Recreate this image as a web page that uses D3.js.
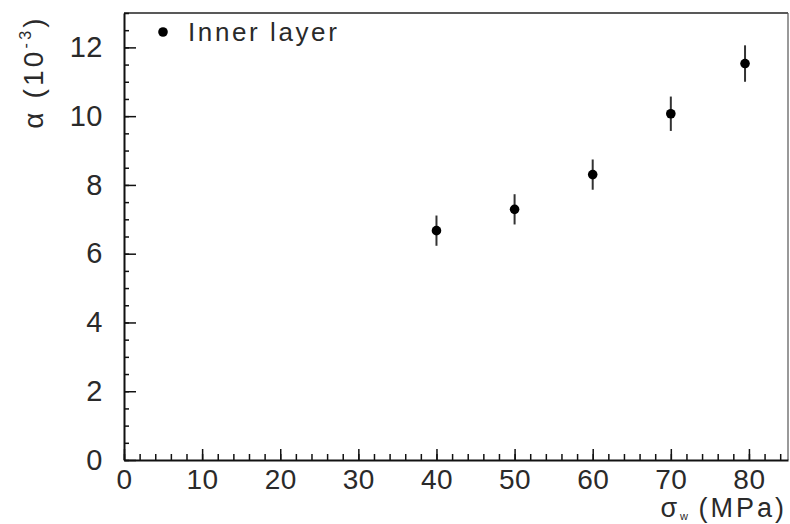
<!DOCTYPE html>
<html>
<head>
<meta charset="utf-8">
<script src="https://cdn.jsdelivr.net/npm/d3@7"></script>
<style>
  body { margin: 0; background: #fff; }
  svg { display: block; }
  text { font-family: "Liberation Sans", Arial, sans-serif; fill: #2a2a2a; }
  .axis path, .axis line { stroke: #111; }
</style>
</head>
<body>
<div id="chart-container"><svg></svg></div>
<script>
// wire stress (MPa) vs alpha (10^-3), inner layer
const stress = [40, 50, 60, 70, 79.5];
const alpha = [6.67, 7.29, 8.30, 10.07, 11.53];
const alphaErr = [0.44, 0.44, 0.44, 0.50, 0.53];

const xTicks = [0, 10, 20, 30, 40, 50, 60, 70, 80];
const yTicks = [0, 2, 4, 6, 8, 10, 12];
const legendLabel = "Inner layer";

const chartSize = {width: 790, height: 524};
const margin = {left: 124, right: 2, top: 13, bottom: 64};

const width = chartSize.width - margin.left - margin.right;
const height = chartSize.height - margin.top - margin.bottom;

const svg = d3.select("#chart-container svg")
  .attr("width", chartSize.width)
  .attr("height", chartSize.height);

const g = svg.append("g")
  .attr("transform", `translate(${margin.left},${margin.top})`);

const x = d3.scaleLinear().domain([0, 85]).range([0, width]);
const y = d3.scaleLinear().domain([0, 13]).range([height, 0]);

// frame: top and right
g.append("line")
  .attr("x1", 0).attr("x2", width).attr("y1", 0).attr("y2", 0)
  .attr("stroke", "#222").attr("stroke-width", 1.5);
g.append("line")
  .attr("x1", width).attr("x2", width).attr("y1", 0).attr("y2", height)
  .attr("stroke", "#555").attr("stroke-width", 1.2);

// minor ticks
g.append("g")
  .attr("class", "axis")
  .attr("transform", `translate(0,${height})`)
  .call(d3.axisBottom(x).tickValues(d3.range(0, 85.01, 2)).tickSize(-6).tickFormat(""))
  .call(a => a.select(".domain").remove());
g.append("g")
  .attr("class", "axis")
  .call(d3.axisLeft(y).tickValues(d3.range(0, 13.01, 0.5)).tickSize(-5).tickFormat(""))
  .call(a => a.select(".domain").remove());

// major axes
const xAxis = g.append("g")
  .attr("class", "axis")
  .attr("transform", `translate(0,${height})`)
  .call(d3.axisBottom(x).tickValues(xTicks).tickSize(-11).tickSizeOuter(0).tickPadding(9));
xAxis.select(".domain").attr("stroke-width", 2);
xAxis.selectAll("text").attr("font-size", 28).attr("letter-spacing", 0.5);

const yAxis = g.append("g")
  .attr("class", "axis")
  .call(d3.axisLeft(y).tickValues(yTicks).tickSize(-12).tickSizeOuter(0).tickPadding(21));
yAxis.select(".domain").attr("stroke-width", 2).attr("stroke", "#444");
yAxis.selectAll("text").attr("font-size", 29).attr("letter-spacing", 0.5);
svg.selectAll(".axis line").attr("stroke-width", 1.5);

// axis labels
const yLabel = g.append("text")
  .attr("transform", `translate(${-81},${59}) rotate(-90)`)
  .attr("text-anchor", "middle")
  .attr("letter-spacing", 3.2)
  .attr("font-size", 28);
yLabel.append("tspan").text("α (10");
yLabel.append("tspan").attr("font-size", 16).attr("dy", -12).text("-3");
yLabel.append("tspan").attr("dy", 12).text(")");

const xLabel = g.append("text")
  .attr("x", width - 1)
  .attr("y", height + 57)
  .attr("text-anchor", "end")
  .attr("letter-spacing", 3)
  .attr("font-size", 27);
xLabel.append("tspan").text("σ");
xLabel.append("tspan").attr("font-size", 11).attr("dy", 3).attr("letter-spacing", 0).text("w");
xLabel.append("tspan").attr("dy", -3).text(" (MPa)");

// error bars and points
const pts = stress.map((s, i) => ({s, a: alpha[i], e: alphaErr[i]}));

g.selectAll(".err")
  .data(pts)
  .join("line")
  .attr("class", "err")
  .attr("x1", d => x(d.s)).attr("x2", d => x(d.s))
  .attr("y1", d => y(d.a - d.e)).attr("y2", d => y(d.a + d.e))
  .attr("stroke", "#333").attr("stroke-width", 2);

g.selectAll(".pt")
  .data(pts)
  .join("circle")
  .attr("class", "pt")
  .attr("cx", d => x(d.s))
  .attr("cy", d => y(d.a))
  .attr("r", 4.8)
  .attr("fill", "#000");

// legend
g.append("circle")
  .attr("cx", 39).attr("cy", 19).attr("r", 4.8).attr("fill", "#000");
g.append("text")
  .attr("x", 64).attr("y", 28)
  .attr("font-size", 26)
  .attr("letter-spacing", 2.6)
  .text(legendLabel);
</script>
</body>
</html>
